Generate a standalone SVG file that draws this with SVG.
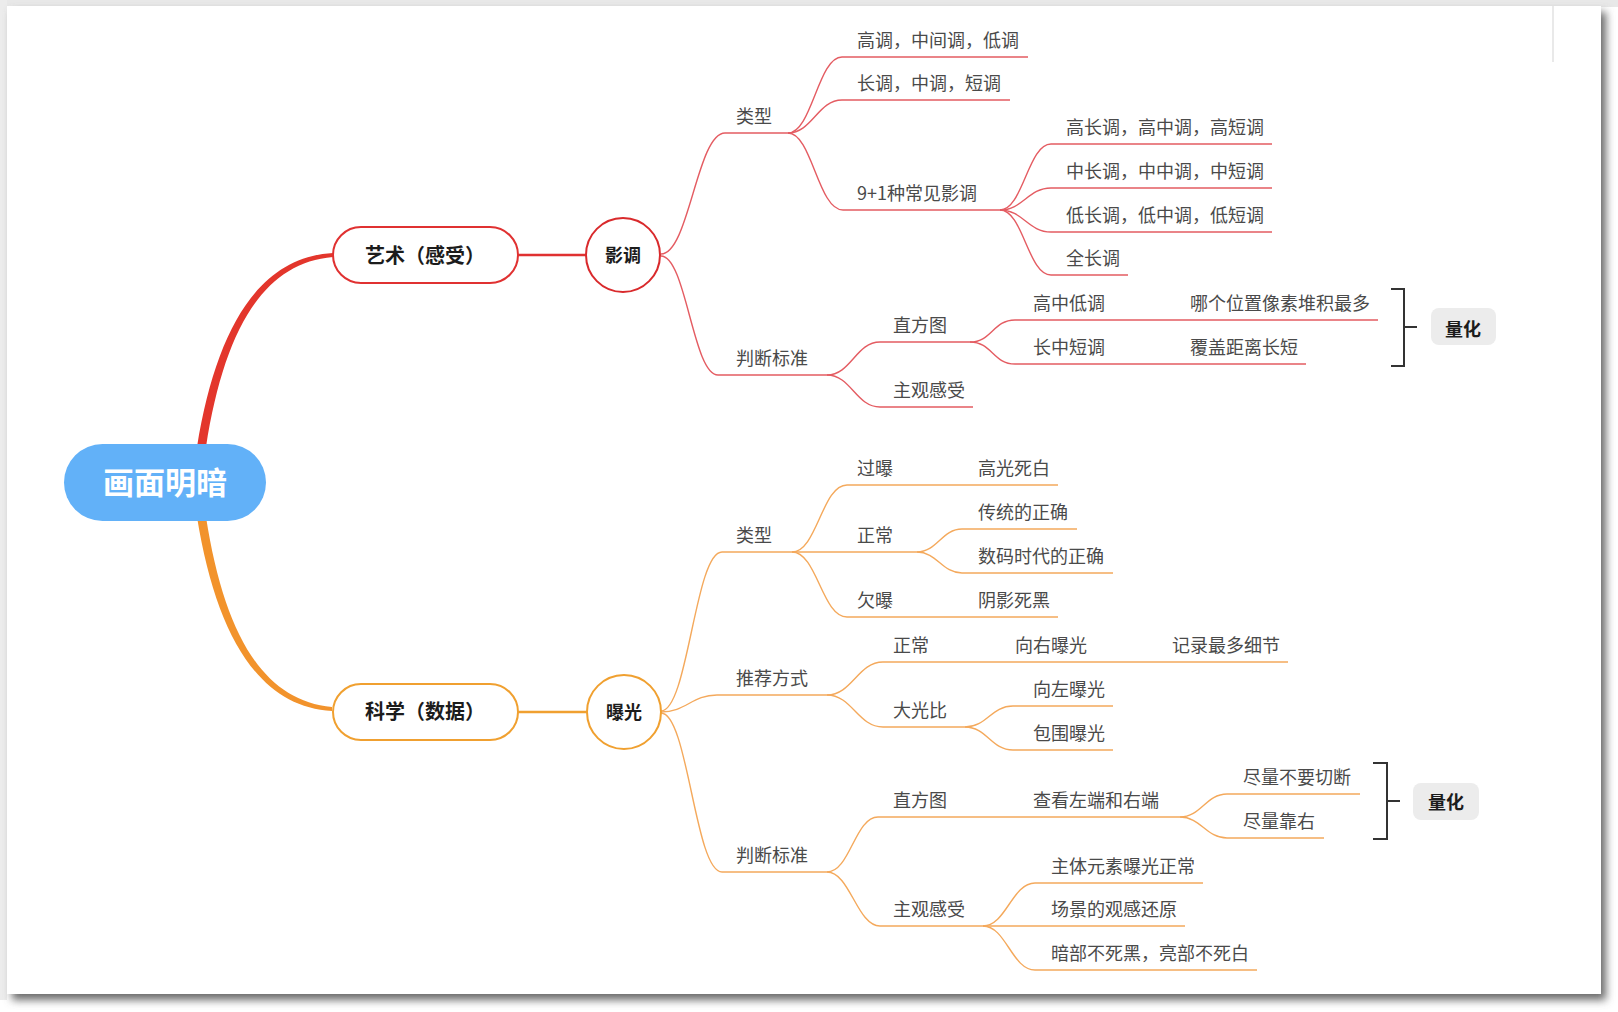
<svg xmlns="http://www.w3.org/2000/svg" width="1618" height="1012" viewBox="0 0 1618 1012">
<defs>
<filter id="sh" x="-5%" y="-5%" width="110%" height="110%"><feGaussianBlur stdDeviation="4"/></filter>
<style>
.t{font-family:"Noto Sans CJK SC","Noto Sans",sans-serif;font-size:18px;fill:#4a4a4a}
.b{font-family:"Noto Sans CJK SC","Noto Sans",sans-serif;font-weight:bold;fill:#1c1c1c}
.r{fill:none;stroke:#e45c62;stroke-width:1.4}
.o{fill:none;stroke:#f4a95c;stroke-width:1.4}
.br{fill:none;stroke:#333;stroke-width:2}
.q{fill:#ececec}
</style>
</defs>
<rect width="1618" height="1012" fill="#ffffff"/>
<rect x="0" y="0" width="1618" height="7" fill="#e8e8e8"/>
<rect x="0" y="0" width="7" height="1000" fill="#ececec"/>
<rect x="12" y="12" width="1594" height="988" fill="#6a6a6a" filter="url(#sh)"/>
<rect x="7" y="6" width="1594" height="988" fill="#ffffff"/>
<line x1="1553" y1="6" x2="1553" y2="62" stroke="#e2e2e2" stroke-width="1.5"/>

<g id="connectors">
<path d="M197 447 C216 330,258 257,333 253 L333 257 C262 263,224 332,206 447 Z" fill="#e3362c"/>
<path d="M197 517 C216 634,258 707,332 711 L332 707 C262 701,224 632,206 517 Z" fill="#f2932c"/>
<line x1="518" y1="255" x2="587" y2="255" stroke="#e03131" stroke-width="2.5"/>
<line x1="518" y1="712" x2="587" y2="712" stroke="#f0a030" stroke-width="2.5"/>

<!-- upper red -->
<path class="r" d="M661 254 C689 254,697 133,725 133 H788"/>
<path class="r" d="M788 133 C812 133,818 57,842 57 H1028"/>
<path class="r" d="M788 133 C812 133,818 100,842 100 H1010"/>
<path class="r" d="M788 133 C812 133,818 210,843 210 H1000"/>
<path class="r" d="M1000 210 C1023 210,1028 144,1051 144 H1272"/>
<path class="r" d="M1000 210 C1023 210,1028 188,1051 188 H1272"/>
<path class="r" d="M1000 210 C1023 210,1028 232,1051 232 H1272"/>
<path class="r" d="M1000 210 C1023 210,1028 275,1051 275 H1128"/>
<path class="r" d="M661 256 C686 256,693 375,718 375 H827"/>
<path class="r" d="M827 375 C851 375,856 342,880 342 H970"/>
<path class="r" d="M827 375 C851 375,856 407,880 407 H973"/>
<path class="r" d="M970 342 C992 342,993 320,1015 320 H1378"/>
<path class="r" d="M970 342 C992 342,993 364,1015 364 H1306"/>

<!-- lower orange -->
<path class="o" d="M661 711 C688 711,695 552,722 552 H917"/>
<path class="o" d="M792 552 C817 552,822 485,847 485 H1058"/>
<path class="o" d="M792 552 C817 552,822 617,847 617 H1058"/>
<path class="o" d="M917 552 C937 552,942 529,962 529 H1077"/>
<path class="o" d="M917 552 C937 552,942 573,962 573 H1113"/>
<path class="o" d="M661 712 C686 712,692 695,717 695 H827"/>
<path class="o" d="M827 695 C852 695,858 662,883 662 H1288"/>
<path class="o" d="M827 695 C852 695,858 727,883 727 H965"/>
<path class="o" d="M965 727 C987 727,991 706,1013 706 H1113"/>
<path class="o" d="M965 727 C987 727,991 750,1013 750 H1113"/>
<path class="o" d="M661 713 C688 713,695 872,722 872 H827"/>
<path class="o" d="M827 872 C850 872,855 817,878 817 H1180"/>
<path class="o" d="M827 872 C850 872,857 926,880 926 H1185"/>
<path class="o" d="M1180 817 C1201 817,1206 794,1227 794 H1360"/>
<path class="o" d="M1180 817 C1201 817,1206 838,1227 838 H1324"/>
<path class="o" d="M983 926 C1006 926,1012 883,1035 883 H1203"/>
<path class="o" d="M983 926 C1006 926,1012 970,1035 970 H1257"/>

<path class="br" d="M1391 289 H1404 V366 H1391 M1404 327 H1417"/>
<path class="br" d="M1373 763 H1387 V839 H1373 M1387 801 H1400"/>
</g>

<g id="root">
<rect x="64" y="444" width="202" height="77" rx="38.5" fill="#62b1f8"/>
<text x="165" y="494" text-anchor="middle" font-family="Noto Sans CJK SC,sans-serif" font-weight="bold" font-size="31" fill="#ffffff">画面明暗</text>
</g>

<g id="art">
<rect x="333" y="227" width="185" height="56" rx="28" fill="#fff" stroke="#e03131" stroke-width="2"/>
<text class="b" x="425" y="263" text-anchor="middle" font-size="20">艺术（感受）</text>
</g>
<g id="tone">
<circle cx="623" cy="255" r="37" fill="#fff" stroke="#d92a2c" stroke-width="2"/>
<text class="b" x="623" y="262" text-anchor="middle" font-size="18">影调</text>
</g>
<g id="science">
<rect x="333" y="684" width="185" height="56" rx="28" fill="#fff" stroke="#f0a030" stroke-width="2"/>
<text class="b" x="425" y="719" text-anchor="middle" font-size="20">科学（数据）</text>
</g>
<g id="exposure">
<circle cx="624" cy="712" r="37" fill="#fff" stroke="#f0a030" stroke-width="2"/>
<text class="b" x="624" y="719" text-anchor="middle" font-size="18">曝光</text>
</g>

<g id="upper-labels">
<text class="t" x="736" y="123">类型</text>
<text class="t" x="857" y="47">高调，中间调，低调</text>
<text class="t" x="857" y="90">长调，中调，短调</text>
<text class="t" x="857" y="200">9+1种常见影调</text>
<text class="t" x="1066" y="134">高长调，高中调，高短调</text>
<text class="t" x="1066" y="178">中长调，中中调，中短调</text>
<text class="t" x="1066" y="222">低长调，低中调，低短调</text>
<text class="t" x="1066" y="265">全长调</text>
<text class="t" x="736" y="365">判断标准</text>
<text class="t" x="893" y="332">直方图</text>
<text class="t" x="893" y="397">主观感受</text>
<text class="t" x="1033" y="310">高中低调</text>
<text class="t" x="1190" y="310">哪个位置像素堆积最多</text>
<text class="t" x="1033" y="354">长中短调</text>
<text class="t" x="1190" y="354">覆盖距离长短</text>
</g>
<g id="quant1">
<rect class="q" x="1431" y="308" width="65" height="37" rx="8"/>
<text class="b" x="1463" y="336" text-anchor="middle" font-size="18">量化</text>
</g>

<g id="lower-labels">
<text class="t" x="736" y="542">类型</text>
<text class="t" x="857" y="475">过曝</text>
<text class="t" x="978" y="475">高光死白</text>
<text class="t" x="857" y="542">正常</text>
<text class="t" x="978" y="519">传统的正确</text>
<text class="t" x="978" y="563">数码时代的正确</text>
<text class="t" x="857" y="607">欠曝</text>
<text class="t" x="978" y="607">阴影死黑</text>
<text class="t" x="736" y="685">推荐方式</text>
<text class="t" x="893" y="652">正常</text>
<text class="t" x="1015" y="652">向右曝光</text>
<text class="t" x="1172" y="652">记录最多细节</text>
<text class="t" x="893" y="717">大光比</text>
<text class="t" x="1033" y="696">向左曝光</text>
<text class="t" x="1033" y="740">包围曝光</text>
<text class="t" x="736" y="862">判断标准</text>
<text class="t" x="893" y="807">直方图</text>
<text class="t" x="1033" y="807">查看左端和右端</text>
<text class="t" x="1243" y="784">尽量不要切断</text>
<text class="t" x="1243" y="828">尽量靠右</text>
<text class="t" x="893" y="916">主观感受</text>
<text class="t" x="1051" y="873">主体元素曝光正常</text>
<text class="t" x="1051" y="916">场景的观感还原</text>
<text class="t" x="1051" y="960">暗部不死黑，亮部不死白</text>
</g>
<g id="quant2">
<rect class="q" x="1413" y="783" width="66" height="37" rx="8"/>
<text class="b" x="1446" y="809" text-anchor="middle" font-size="18">量化</text>
</g>
</svg>
